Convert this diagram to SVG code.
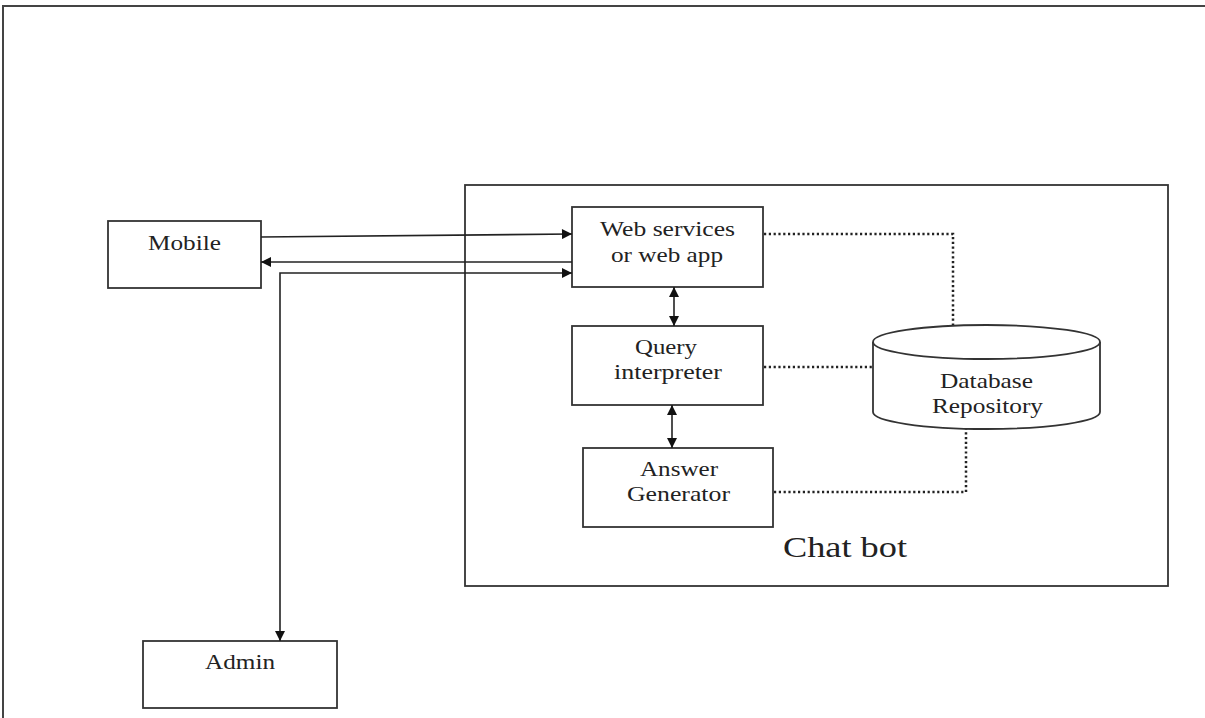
<svg xmlns="http://www.w3.org/2000/svg" width="1205" height="718" viewBox="0 0 1205 718">
<style>
.box{fill:#fff;stroke:#333;stroke-width:1.8}
.frame{fill:none;stroke:#444;stroke-width:2}
.conn{fill:none;stroke:#222;stroke-width:1.6}
.dot{fill:none;stroke:#222;stroke-width:2.5;stroke-dasharray:2.2 2.6}
text{font-family:"Liberation Serif","Times New Roman",serif;font-size:22px;fill:#222;text-anchor:middle}
</style>
<defs>
<marker id="ah" viewBox="0 0 10 10" refX="10" refY="5" markerWidth="12" markerHeight="10" markerUnits="userSpaceOnUse" orient="auto-start-reverse">
<path d="M0,0 L10,5 L0,10 z" fill="#111"/>
</marker>
</defs>
<rect width="1205" height="718" fill="#fff"/>
<g id="outer-frame">
<path class="frame" d="M3,718 L3,6 L1205,6"/>
</g>
<g id="chatbot">
<rect class="box" x="465" y="185" width="703" height="401"/>
<text x="845" y="557" style="font-size:30px" textLength="124" lengthAdjust="spacingAndGlyphs">Chat bot</text>
</g>
<g id="mobile">
<rect class="box" x="108" y="221" width="153" height="67"/>
<text x="184.5" y="250" textLength="73" lengthAdjust="spacingAndGlyphs">Mobile</text>
</g>
<g id="admin">
<rect class="box" x="143" y="641" width="194" height="67"/>
<text x="240" y="669" textLength="70" lengthAdjust="spacingAndGlyphs">Admin</text>
</g>
<g id="web">
<rect class="box" x="572" y="207" width="191" height="80"/>
<text x="667.5" y="236" textLength="135" lengthAdjust="spacingAndGlyphs">Web services</text>
<text x="667" y="262" textLength="112" lengthAdjust="spacingAndGlyphs">or web app</text>
</g>
<g id="query">
<rect class="box" x="572" y="326" width="191" height="79"/>
<text x="666" y="354" textLength="62" lengthAdjust="spacingAndGlyphs">Query</text>
<text x="668" y="379" textLength="108" lengthAdjust="spacingAndGlyphs">interpreter</text>
</g>
<g id="answer">
<rect class="box" x="583" y="448" width="190" height="79"/>
<text x="679" y="476" textLength="78" lengthAdjust="spacingAndGlyphs">Answer</text>
<text x="678.5" y="501" textLength="103" lengthAdjust="spacingAndGlyphs">Generator</text>
</g>
<g id="database">
<path class="box" d="M873,342 L873,412 A113.5,17 0 0 0 1100,412 L1100,342"/>
<ellipse class="box" cx="986.5" cy="342" rx="113.5" ry="17"/>
<text x="986.5" y="388" textLength="93" lengthAdjust="spacingAndGlyphs">Database</text>
<text x="987.5" y="413" textLength="111" lengthAdjust="spacingAndGlyphs">Repository</text>
</g>
<g id="connectors">
<path class="conn" d="M261,237 L572,234" marker-end="url(#ah)"/>
<path class="conn" d="M572,262 L261,262" marker-end="url(#ah)"/>
<path class="conn" d="M280,641 L280,273 L572,273" marker-start="url(#ah)" marker-end="url(#ah)"/>
<path class="conn" d="M674,287 L674,326" marker-start="url(#ah)" marker-end="url(#ah)"/>
<path class="conn" d="M672,405 L672,448" marker-start="url(#ah)" marker-end="url(#ah)"/>
<path class="dot" d="M764,234 L953,234 L953,325"/>
<path class="dot" d="M764,367 L873,367"/>
<path class="dot" d="M774,492 L966,492 L966,429"/>
</g>
</svg>
